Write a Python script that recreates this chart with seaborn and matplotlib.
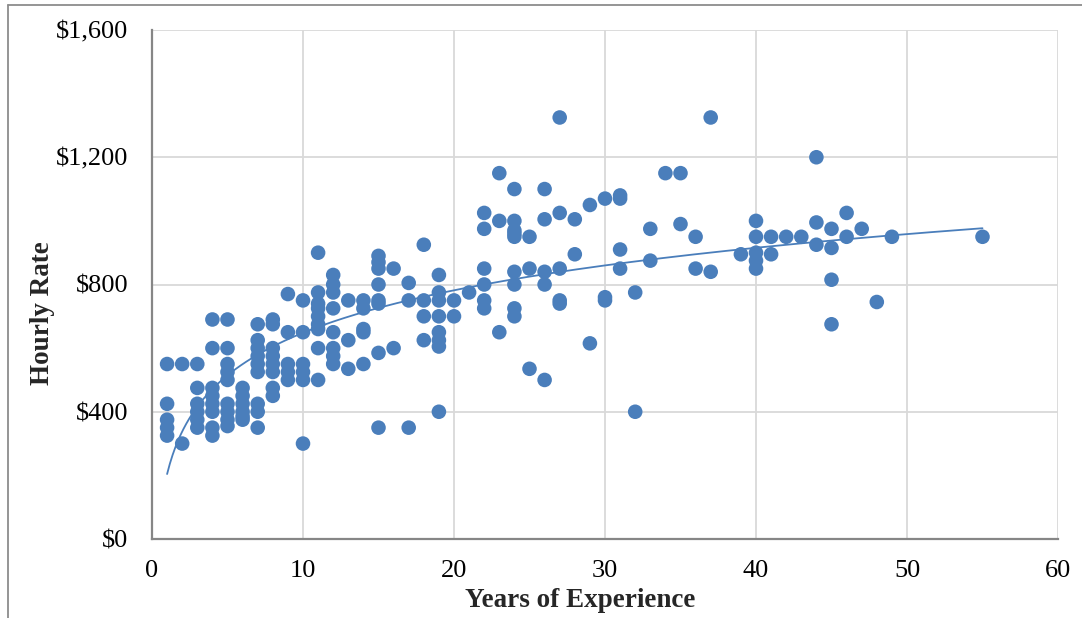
import numpy as np
import pandas as pd
import matplotlib
matplotlib.use("Agg")
import matplotlib.pyplot as plt
from matplotlib.lines import Line2D
from matplotlib.ticker import FuncFormatter
import seaborn as sns

# Hourly rate observations grouped by years of experience
rates_by_year = {
    1: [550, 425, 375, 350, 325],
    2: [550, 300],
    3: [550, 475, 425, 400, 375, 350],
    4: [690, 600, 475, 450, 425, 400, 350, 325],
    5: [690, 600, 550, 525, 500, 425, 400, 375, 355],
    6: [475, 450, 425, 400, 385, 375],
    7: [675, 625, 600, 575, 550, 525, 425, 400, 350],
    8: [690, 675, 600, 575, 550, 525, 475, 450],
    9: [770, 650, 550, 525, 500],
    10: [750, 650, 550, 525, 500, 300],
    11: [900, 775, 740, 725, 700, 675, 660, 600, 500],
    12: [830, 800, 775, 725, 650, 600, 575, 550],
    13: [750, 625, 535],
    14: [750, 725, 660, 650, 550],
    15: [890, 870, 850, 800, 750, 740, 585, 350],
    16: [850, 600],
    17: [805, 750, 350],
    18: [925, 750, 700, 625],
    19: [830, 775, 750, 700, 650, 625, 605, 400],
    20: [750, 700],
    21: [775],
    22: [1025, 975, 850, 800, 750, 725],
    23: [1150, 1000, 650],
    24: [1100, 1000, 970, 960, 950, 840, 800, 725, 700],
    25: [950, 850, 535],
    26: [1100, 1005, 840, 800, 500],
    27: [1325, 1025, 850, 750, 740],
    28: [1005, 895],
    29: [1050, 615],
    30: [1070, 760, 750],
    31: [1080, 1070, 910, 850],
    32: [775, 400],
    33: [975, 875],
    34: [1150],
    35: [1150, 990],
    36: [950, 850],
    37: [1325, 840],
    39: [895],
    40: [1000, 950, 900, 875, 850],
    41: [950, 895],
    42: [950],
    43: [950],
    44: [1200, 995, 925],
    45: [975, 915, 815, 675],
    46: [1025, 950],
    47: [975],
    48: [745],
    49: [950],
    55: [950],
}

x_ticks = [0, 10, 20, 30, 40, 50, 60]
y_ticks = [0, 400, 800, 1200, 1600]
x_label = "Years of Experience"
y_label = "Hourly Rate"

years = [yr for yr, vals in rates_by_year.items() for _ in vals]
rates = [v for vals in rates_by_year.values() for v in vals]
df = pd.DataFrame({"years": years, "rate": rates})

BLUE = "#4A7EBB"

sns.set_theme(style="white")
plt.rcParams["font.family"] = ["Liberation Serif", "DejaVu Serif"]

fig = plt.figure(figsize=(10.82, 6.18), dpi=100)
ax = fig.add_axes([152 / 1082, 1 - 539 / 618, (1058 - 152) / 1082, (539 - 30) / 618])

sns.scatterplot(data=df, x="years", y="rate", ax=ax, s=110, color=BLUE,
                edgecolor="none", linewidth=0, zorder=3)

# Logarithmic trendline fitted to the observations
coef = np.polyfit(np.log(df["years"]), df["rate"], 1)
xs = np.linspace(df["years"].min(), df["years"].max(), 300)
sns.lineplot(x=xs, y=np.polyval(coef, np.log(xs)), ax=ax, color=BLUE,
             linewidth=1.3, zorder=2)

ax.set_xlim(x_ticks[0], x_ticks[-1])
ax.set_ylim(y_ticks[0], y_ticks[-1])
ax.set_xticks(x_ticks)
ax.set_yticks(y_ticks)
ax.yaxis.set_major_formatter(FuncFormatter(lambda v, p: f"${v:,.0f}"))

ax.grid(True, color="#D9D9D9", linewidth=1.3)
ax.set_axisbelow(True)
for side in ["top", "right"]:
    ax.spines[side].set_visible(False)
for side in ["left", "bottom"]:
    ax.spines[side].set_color("#868686")
    ax.spines[side].set_linewidth(1.6)
    ax.spines[side].set_zorder(4)

ax.tick_params(axis="both", which="major", direction="out", length=5,
               width=1.3, color="#868686", labelsize=19, labelcolor="black")
ax.tick_params(axis="y", pad=12)
ax.tick_params(axis="x", pad=10)

ax.set_xlabel(x_label, fontsize=19.5, fontweight="bold")
ax.set_ylabel(y_label, fontsize=19.5, fontweight="bold")
ax.xaxis.label.set_va("center")
ax.yaxis.label.set_va("center")
ax.xaxis.set_label_coords(0.473, -0.1218)
ax.yaxis.set_label_coords(-0.1214, 0.444)

# Chart frame edges along the top and left of the canvas
fig.add_artist(Line2D([8 / 1082, 1], [1 - 5 / 618, 1 - 5 / 618],
                      transform=fig.transFigure, color="#8C8C8C", linewidth=1.3))
fig.add_artist(Line2D([8 / 1082, 8 / 1082], [0, 1 - 5 / 618],
                      transform=fig.transFigure, color="#8C8C8C", linewidth=1.3))

fig.savefig("out.png", dpi=100, facecolor="white")
